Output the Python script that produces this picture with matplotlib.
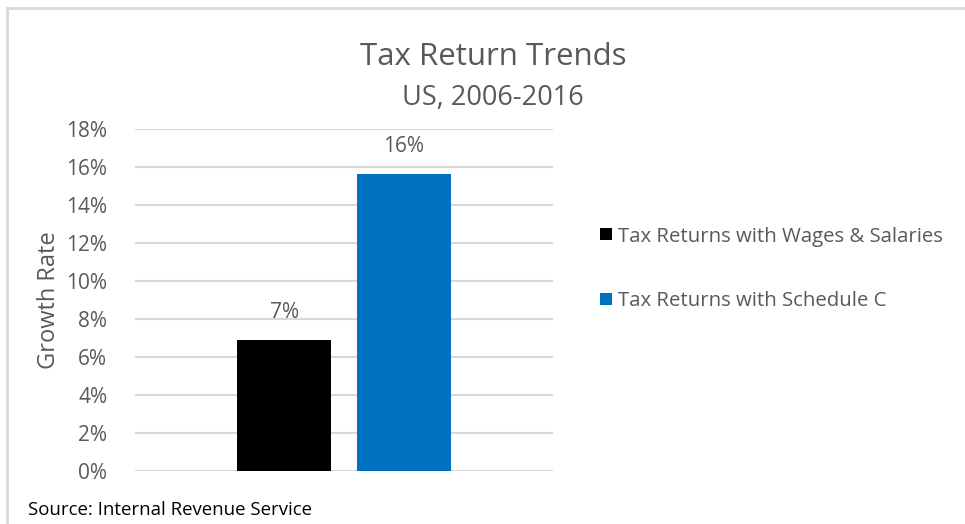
import matplotlib.pyplot as plt
from matplotlib.lines import Line2D
from matplotlib.patches import Patch

plt.rcParams['font.family'] = ['Open Sans', 'DejaVu Sans']

series = ['Tax Returns with Wages & Salaries', 'Tax Returns with Schedule C']
values = [6.9, 15.65]
colors = ['#000000', '#0070c0']
yticks = [0, 2, 4, 6, 8, 10, 12, 14, 16, 18]

gray = '#595959'

fig = plt.figure(figsize=(9.65, 5.24), dpi=100)
ax = fig.add_axes([135 / 965, 1 - 471 / 524, 418 / 965, 342 / 524])

width = 0.225
offsets = [-0.1425, 0.1425]
for off, v, c, name in zip(offsets, values, colors, series):
    ax.bar(off, v, width=width, color=c, label=name, zorder=3)
    ax.annotate(f'{v:.0f}%', (off, v), xytext=(0, 12), textcoords='offset points',
                ha='center', va='bottom', fontsize=15, color=gray)

ax.set_xlim(-0.5, 0.5)
ax.set_ylim(0, 18)
ax.set_yticks(yticks)
ax.set_yticklabels([f'{t}%' for t in yticks], fontsize=15, color=gray)
ax.set_xticks([])
ax.tick_params(axis='y', length=0, pad=20)
ax.grid(axis='y', color='#d9d9d9', lw=1.5, zorder=0)
for s in ax.spines.values():
    s.set_visible(False)
ax.set_ylabel('Growth Rate', fontsize=17, color=gray, labelpad=4)

fig.text(493 / 965, 1 - 57 / 524, 'Tax Return Trends', ha='center', va='center',
         fontsize=22.5, color=gray)
fig.text(493 / 965, 1 - 98 / 524, 'US, 2006-2016', ha='center', va='center',
         fontsize=19.5, color=gray)
fig.text(28 / 965, 1 - 510 / 524, 'Source: Internal Revenue Service', ha='left',
         va='center', fontsize=13.4, color='black')

handles = [Patch(facecolor=c) for c in colors]
fig.legend(handles, series, loc='center left', bbox_to_anchor=(582 / 965, 1 - 269 / 524),
           frameon=False, fontsize=14.7, labelcolor=gray, handlelength=0.55,
           handleheight=0.55, handletextpad=0.3, labelspacing=2.2)

# chart border (top and left visible)
fig.add_artist(Line2D([7 / 965, 1], [1 - 8 / 524] * 2, color='#d9d9d9', lw=2,
                      transform=fig.transFigure))
fig.add_artist(Line2D([7 / 965] * 2, [0, 1 - 8 / 524], color='#d9d9d9', lw=2,
                      transform=fig.transFigure))

fig.savefig('out.png', dpi=100)
